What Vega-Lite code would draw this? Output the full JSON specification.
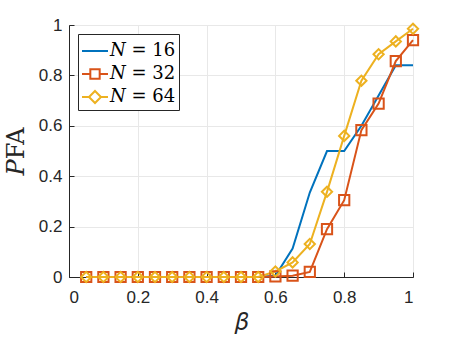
{
  "$schema": "https://vega.github.io/schema/vega-lite/v6.json",
  "width": 344,
  "height": 252,
  "autosize": {"type": "none"},
  "padding": {"left": 69, "top": 25, "right": 44, "bottom": 65},
  "background": "white",
  "config": {
    "view": {"stroke": "#262626", "strokeWidth": 1},
    "axis": {
      "domainColor": "#262626",
      "tickColor": "#262626",
      "gridColor": "#e8e8e8",
      "labelColor": "#262626",
      "labelFont": "Liberation Sans",
      "labelFontSize": 17,
      "titleColor": "#262626",
      "titleFont": "DejaVu Serif",
      "titleFontWeight": "normal",
      "tickSize": -5
    }
  },
  "data": {
    "values": [
      {"beta": 0.05, "N": "16", "p": 0}, {"beta": 0.10, "N": "16", "p": 0}, {"beta": 0.15, "N": "16", "p": 0}, {"beta": 0.20, "N": "16", "p": 0},
      {"beta": 0.25, "N": "16", "p": 0}, {"beta": 0.30, "N": "16", "p": 0}, {"beta": 0.35, "N": "16", "p": 0}, {"beta": 0.40, "N": "16", "p": 0},
      {"beta": 0.45, "N": "16", "p": 0}, {"beta": 0.50, "N": "16", "p": 0}, {"beta": 0.55, "N": "16", "p": 0}, {"beta": 0.60, "N": "16", "p": 0.005},
      {"beta": 0.65, "N": "16", "p": 0.113}, {"beta": 0.70, "N": "16", "p": 0.335}, {"beta": 0.75, "N": "16", "p": 0.5}, {"beta": 0.80, "N": "16", "p": 0.5},
      {"beta": 0.85, "N": "16", "p": 0.6}, {"beta": 0.90, "N": "16", "p": 0.72}, {"beta": 0.95, "N": "16", "p": 0.84}, {"beta": 1.00, "N": "16", "p": 0.84},
      {"beta": 0.05, "N": "32", "p": 0}, {"beta": 0.10, "N": "32", "p": 0}, {"beta": 0.15, "N": "32", "p": 0}, {"beta": 0.20, "N": "32", "p": 0},
      {"beta": 0.25, "N": "32", "p": 0}, {"beta": 0.30, "N": "32", "p": 0}, {"beta": 0.35, "N": "32", "p": 0}, {"beta": 0.40, "N": "32", "p": 0},
      {"beta": 0.45, "N": "32", "p": 0}, {"beta": 0.50, "N": "32", "p": 0}, {"beta": 0.55, "N": "32", "p": 0}, {"beta": 0.60, "N": "32", "p": 0.002},
      {"beta": 0.65, "N": "32", "p": 0.005}, {"beta": 0.70, "N": "32", "p": 0.02}, {"beta": 0.75, "N": "32", "p": 0.19}, {"beta": 0.80, "N": "32", "p": 0.305},
      {"beta": 0.85, "N": "32", "p": 0.583}, {"beta": 0.90, "N": "32", "p": 0.688}, {"beta": 0.95, "N": "32", "p": 0.857}, {"beta": 1.00, "N": "32", "p": 0.94},
      {"beta": 0.05, "N": "64", "p": 0}, {"beta": 0.10, "N": "64", "p": 0}, {"beta": 0.15, "N": "64", "p": 0}, {"beta": 0.20, "N": "64", "p": 0},
      {"beta": 0.25, "N": "64", "p": 0}, {"beta": 0.30, "N": "64", "p": 0}, {"beta": 0.35, "N": "64", "p": 0}, {"beta": 0.40, "N": "64", "p": 0},
      {"beta": 0.45, "N": "64", "p": 0}, {"beta": 0.50, "N": "64", "p": 0}, {"beta": 0.55, "N": "64", "p": 0}, {"beta": 0.60, "N": "64", "p": 0.022},
      {"beta": 0.65, "N": "64", "p": 0.058}, {"beta": 0.70, "N": "64", "p": 0.131}, {"beta": 0.75, "N": "64", "p": 0.338}, {"beta": 0.80, "N": "64", "p": 0.56},
      {"beta": 0.85, "N": "64", "p": 0.779}, {"beta": 0.90, "N": "64", "p": 0.884}, {"beta": 0.95, "N": "64", "p": 0.935}, {"beta": 1.00, "N": "64", "p": 0.985}
    ]
  },
  "encoding": {
    "x": {
      "field": "beta", "type": "quantitative",
      "scale": {"domain": [0, 1], "nice": false},
      "axis": {"values": [0, 0.2, 0.4, 0.6, 0.8, 1], "labelExpr": "datum.value == 0 || datum.value == 1 ? format(datum.value, 'd') : format(datum.value, '.1f')", "labelPadding": 17, "title": "𝛽", "titleFontSize": 24, "titlePadding": 5}
    },
    "y": {
      "field": "p", "type": "quantitative",
      "scale": {"domain": [0, 1], "nice": false},
      "axis": {"values": [0, 0.2, 0.4, 0.6, 0.8, 1], "labelExpr": "datum.value == 0 || datum.value == 1 ? format(datum.value, 'd') : format(datum.value, '.1f')", "labelPadding": 12, "title": "𝑃FA", "titleFontSize": 24, "titlePadding": 10}
    }
  },
  "layer": [
    {
      "mark": {"type": "line", "strokeWidth": 2},
      "encoding": {
        "color": {
          "field": "N", "type": "nominal",
          "scale": {"domain": ["16", "32", "64"], "range": ["#0072BD", "#D95319", "#EDB120"]},
          "legend": {
            "title": null,
            "orient": "top-left",
            "offset": 9,
            "padding": 3,
            "fillColor": "white",
            "strokeColor": "#262626",
            "labelFont": "DejaVu Serif",
            "labelFontSize": 18,
            "labelColor": "#000000",
            "labelExpr": "'𝑁 = ' + datum.label",
            "symbolSize": 676,
            "symbolStrokeWidth": 2,
            "rowPadding": 0,
            "labelOffset": 1,
            "encode": {
              "symbols": {
                "update": {
                  "shape": {"signal": "datum.value == '16' ? 'M-1,0H1' : datum.value == '32' ? 'M-1,0H-0.36M0.36,0H1M-0.36,-0.36H0.36V0.36H-0.36Z' : 'M-1,0H-0.46M0.46,0H1M0,-0.46L0.46,0L0,0.46L-0.46,0Z'"},
                  "fill": {"value": "transparent"}
                }
              }
            }
          }
        }
      }
    },
    {
      "transform": [{"filter": "datum.N != '16'"}],
      "mark": {"type": "point", "filled": false, "strokeWidth": 2, "opacity": 1},
      "encoding": {
        "color": {"field": "N", "type": "nominal", "scale": {"domain": ["16", "32", "64"], "range": ["#0072BD", "#D95319", "#EDB120"]}, "legend": null},
        "shape": {"field": "N", "type": "nominal", "scale": {"domain": ["32", "64"], "range": ["square", "diamond"]}, "legend": null},
        "size": {"value": 105}
      }
    }
  ]
}
